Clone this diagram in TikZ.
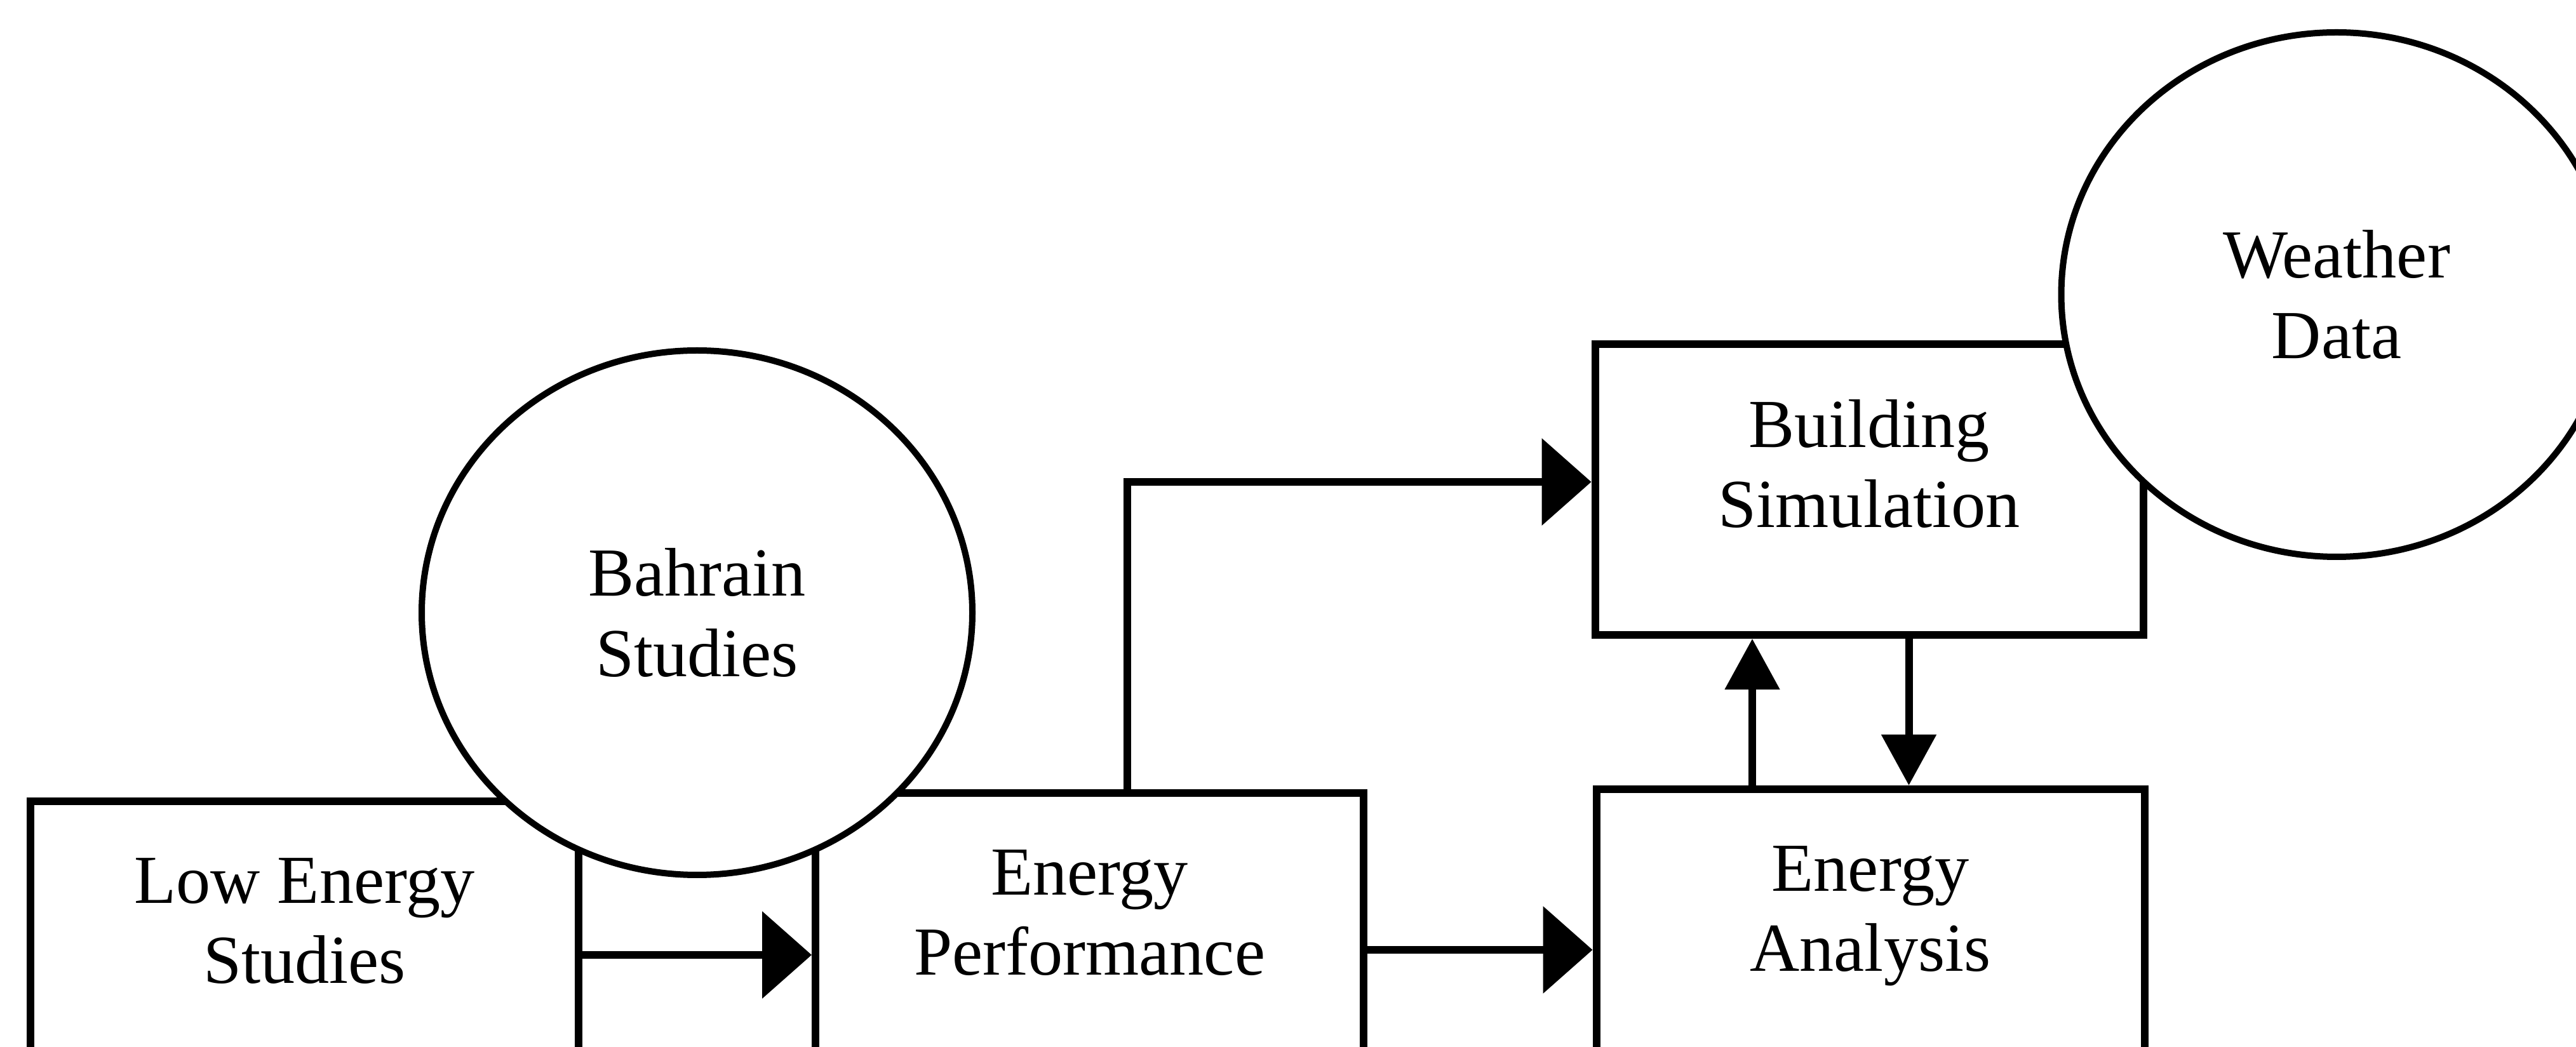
\documentclass[tikz,border=0pt]{standalone}
\usepackage{fontspec}
\setmainfont{Liberation Serif}
\usepackage{tikz}
\usetikzlibrary{arrows.meta,positioning,shapes.geometric}

\tikzset{
  stage/.style={draw,line width=0.12cm,fill=white,minimum width=8.63cm,minimum height=4.58cm,
    inner sep=0pt,align=center,text depth=0.82cm,font=\fontsize{30.8}{36.1}\selectfont},
  source/.style={ellipse,draw,line width=0.1cm,fill=white,minimum width=8.67cm,minimum height=8.26cm,
    inner sep=0pt,align=center,font=\fontsize{30.8}{36.1}\selectfont},
  flowh/.style={line width=0.12cm,-{Triangle[length=0.78cm,width=1.35cm]}},
  flowv/.style={line width=0.12cm,-{Triangle[length=0.8cm,width=0.84cm]}}
}

\begin{document}
\begin{tikzpicture}
        \useasboundingbox (0,0) rectangle (40.56,16.48);
        \clip (0,0) rectangle (40.56,16.48);
        % Boxes
        \node[stage] (low)  at (4.795,1.57) {Low Energy\\Studies};
        \node[stage] (perf) at (17.155,1.70) {Energy\\Performance};
        \node[stage] (ana)  at (29.45,1.76) {Energy\\Analysis};
        \node[stage] (sim)  at (29.43,8.77) {Building\\Simulation};
        % Flow
        \draw[flowh] (low.east |- 0,1.44) -- (perf.west |- 0,1.44);
        \draw[flowh] (perf.east |- 0,1.52) -- (ana.west |- 0,1.52);
        \draw[flowh] (perf.north -| 17.75,0) |- (sim.west |- 0,8.89);
        \draw[flowv] (ana.north -| 27.59,0) -- (sim.south -| 27.59,0);
        \draw[flowv] (sim.south -| 30.055,0) -- (ana.north -| 30.055,0);
        % Inputs
        \node[source] (bahrain) at (10.975,6.83) {Bahrain\\Studies};
        \node[source] (weather) at (36.79,11.84) {Weather\\Data};
\end{tikzpicture}
\end{document}
